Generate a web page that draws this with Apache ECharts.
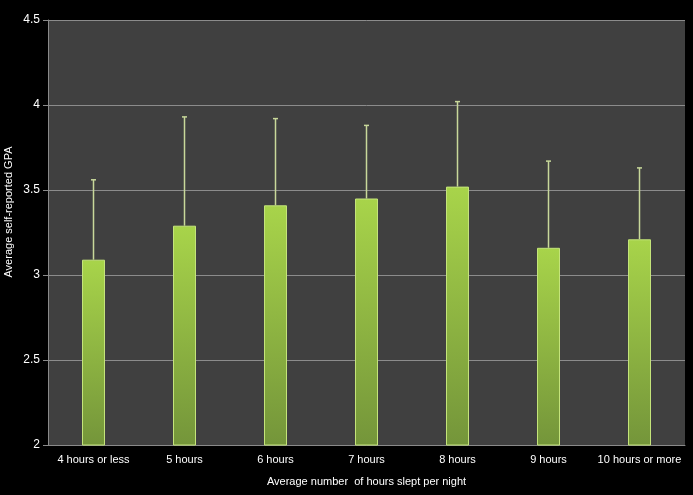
<!DOCTYPE html>
<html>
<head>
<meta charset="utf-8">
<script src="https://cdn.jsdelivr.net/npm/echarts@6/dist/echarts.min.js"></script>
<style>
html,body{margin:0;padding:0;background:#000;}
#chart{width:693px;height:495px;}
</style>
</head>
<body>
<div id="chart"></div>
<script>
var categories = ['4 hours or less','5 hours','6 hours','7 hours','8 hours','9 hours','10 hours or more'];
var gpaMeans = [3.09, 3.29, 3.41, 3.45, 3.52, 3.16, 3.21];
var gpaUpper = [3.56, 3.93, 3.92, 3.88, 4.02, 3.67, 3.63];
var yTicks = [2, 2.5, 3, 3.5, 4, 4.5];

var errData = categories.map(function(c, i){ return [i, gpaMeans[i], gpaUpper[i]]; });

var chart = echarts.init(document.getElementById('chart'));
chart.setOption({
  backgroundColor: '#000000',
  animation: false,
  grid: {left: 48, right: 8, top: 20, bottom: 50, show: true, backgroundColor: '#404040', borderWidth: 0},
  xAxis: {
    type: 'category',
    data: categories,
    axisTick: {show: false},
    axisLine: {show: true, lineStyle: {color: '#8a8a8a', width: 1}},
    axisLabel: {interval: 0, color: '#ffffff', fontSize: 11, fontFamily: 'Liberation Sans, Arial, sans-serif', margin: 9},
    name: 'Average number  of hours slept per night',
    nameLocation: 'middle',
    nameGap: 31,
    nameTextStyle: {color: '#ffffff', fontSize: 11, fontFamily: 'Liberation Sans, Arial, sans-serif'}
  },
  yAxis: {
    type: 'value',
    min: yTicks[0],
    max: yTicks[yTicks.length - 1],
    interval: 0.5,
    axisLine: {show: true, lineStyle: {color: '#8a8a8a', width: 1}},
    axisTick: {show: true, length: 5, inside: false, lineStyle: {color: '#8a8a8a'}},
    splitLine: {show: true, lineStyle: {color: '#8c8c8c', width: 1}},
    axisLabel: {color: '#ffffff', fontSize: 12, fontFamily: 'Liberation Sans, Arial, sans-serif', margin: 8}
  },
  graphic: [{
    type: 'text',
    x: 9, y: 212,
    rotation: Math.PI / 2,
    style: {
      text: 'Average self-reported GPA',
      fill: '#ffffff',
      font: '11px "Liberation Sans", Arial, sans-serif',
      align: 'center',
      verticalAlign: 'middle'
    }
  }],
  series: [{
    type: 'bar',
    data: gpaMeans,
    barWidth: 23,
    itemStyle: {
      color: new echarts.graphic.LinearGradient(0, 0, 0, 1, [
        {offset: 0, color: '#a8d44a'},
        {offset: 1, color: '#74953a'}
      ]),
      borderColor: '#c4e47a',
      borderWidth: 1
    },
    z: 2
  }, {
    type: 'custom',
    data: errData,
    z: 3,
    renderItem: function(params, api){
      var x = api.value(0);
      var lo = api.coord([x, api.value(1)]);
      var hi = api.coord([x, api.value(2)]);
      var style = {stroke: '#c8d89a', lineWidth: 1.5};
      return {
        type: 'group',
        children: [
          {type: 'line', shape: {x1: lo[0], y1: lo[1], x2: hi[0], y2: hi[1]}, style: style},
          {type: 'line', shape: {x1: hi[0] - 2.5, y1: hi[1], x2: hi[0] + 2.5, y2: hi[1]}, style: style}
        ]
      };
    }
  }]
});
</script>
</body>
</html>
